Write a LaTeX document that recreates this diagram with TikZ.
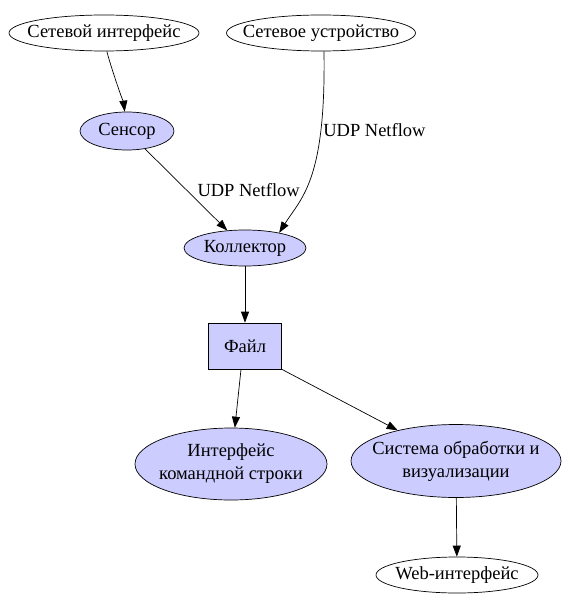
\documentclass[tikz,border=0pt]{standalone}
\usepackage{fontspec}
\setmainfont{Liberation Serif}
\usetikzlibrary{shapes.geometric, arrows.meta, positioning}

\definecolor{lavender}{HTML}{CCCCFF}

\begin{document}
\begin{tikzpicture}[
        x=1pt, y=-1pt,
        font=\fontsize{18.5}{23}\selectfont,
        line width=0.7pt,
        % Styles
        ext/.style={ellipse, draw=black, fill=white, inner sep=-30pt, minimum height=36pt, align=center},
        comp/.style={ext, fill=lavender},
        storage/.style={rectangle, draw=black, fill=lavender, minimum width=73pt, minimum height=46pt},
        arrow/.style={-{Triangle[length=11pt, width=8pt]}, draw=black},
        lbl/.style={inner sep=2pt}
    ]
    \useasboundingbox (0,0) rectangle (570,604);

    % Sources (top)
    \node[ext, minimum width=190pt] (iface) at (104,33) {Сетевой интерфейс};
    \node[ext, minimum width=189pt] (device) at (321,33) {Сетевое устройство};

    % Collection
    \node[comp, minimum width=94pt, minimum height=38pt] (sensor) at (127,131) {Сенсор};
    \node[comp, minimum width=122pt] (collector) at (245,248) {Коллектор};
    \node[storage] (file) at (245,346) {Файл};

    % Consumers
    \node[comp, minimum width=192pt, minimum height=72pt] (cli) at (231,464) {Интерфейс\\командной строки};
    \node[comp, minimum width=210pt, minimum height=73pt] (vis) at (456,461) {Система обработки и\\визуализации};
    \node[ext, minimum width=162pt] (web) at (457,575) {Web-интерфейс};

    % Edges
    \draw[arrow] (iface) .. controls +(4,25) and +(-3,-25) .. (sensor);
    \draw[arrow] (sensor) -- node[lbl, right, xshift=9pt] {UDP Netflow} (collector);
    \draw[arrow] ([xshift=3pt]device.south) .. controls +(2,130) and +(22,-35) .. node[lbl, right, pos=0.25] {UDP Netflow} (collector.24);
    \draw[arrow] (collector) -- (file);
    \draw[arrow] ([xshift=-4pt]file.south) -- (cli);
    \draw[arrow] (file.south east) -- (vis);
    \draw[arrow] (vis) -- (web);

\end{tikzpicture}
\end{document}
